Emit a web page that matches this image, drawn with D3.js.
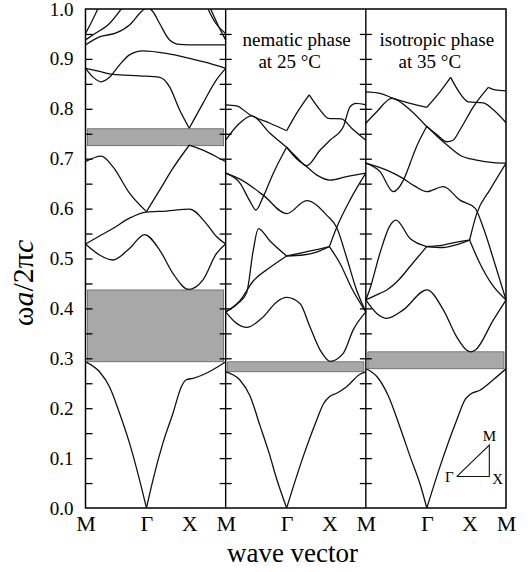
<!DOCTYPE html>
<html>
<head>
<meta charset="utf-8">
<script src="https://cdn.jsdelivr.net/npm/d3@7"></script>
<style>
body{margin:0;background:#fff}
svg{display:block}
text{font-family:"Liberation Serif","Times New Roman",serif}
</style>
</head>
<body>
<svg width="531" height="572"></svg>
<script>
// symmetry points along M-Γ-X-M, as a fraction of each panel
let kLabels = ["M", "Γ", "X"];
let kTicks = [0, 0.435, 0.74];
let yTicks = [0, 0.1, 0.2, 0.3, 0.4, 0.5, 0.6, 0.7, 0.8, 0.9, 1.0];
let panelTitle = ["", "nematic phase", "isotropic phase"];
let panelTemp = ["", "at 25 °C", "at 35 °C"];

// band gaps [low, high] per panel
let gaps = [
  [[0.293, 0.437], [0.726, 0.760]],
  [[0.273, 0.293]],
  [[0.279, 0.313]]
];

// bands: [k, ωa/2πc], third value 1 = sharp corner
let bands1 = [
  [[0,.293],[.1,.273],[.171,.243],[.243,.19],[.314,.13],[.386,.056],[.435,0,1],[.481,.056],[.552,.13],[.624,.19],[.684,.243],[.719,.257],[.766,.26],[.838,.267],[.909,.277],[1,.293]],
  [[0,.529],[.1,.507],[.195,.497],[.314,.52],[.421,.548],[.529,.517],[.624,.47],[.735,.438],[.838,.457],[.934,.51],[1,.529]],
  [[0,.529],[.1,.545],[.195,.56],[.314,.581],[.435,.593],[.576,.595],[.743,.599],[.862,.57],[.934,.544],[1,.529]],
  [[0,.694],[.112,.705],[.195,.684],[.314,.631],[.435,.594,1],[.529,.637],[.624,.681],[.74,.727,1],[.838,.717],[.934,.704],[1,.694]],
  [[0,.881],[.052,.864],[.112,.854],[.171,.863],[.243,.888],[.314,.908],[.409,.916],[.576,.911],[.743,.901],[.886,.891],[1,.881]],
  [[0,.881],[.1,.875],[.195,.869],[.386,.866],[.529,.863],[.6,.844],[.671,.798],[.74,.761,1],[.838,.811],[.934,.858],[1,.881]],
  [[0,.928],[.1,.944],[.219,.952],[.314,.968],[.4,.995],[.44,1.003],[.48,.995],[.529,.971],[.6,.938],[.671,.929],[.8,.928],[1,.928]],
  [[0,.938],[.052,.948],[.171,.971],[.255,1.0]],
  [[0,.951],[.045,.975],[.088,1.0]],
  [[.874,1.0],[.921,.975],[1,.951]],
  [[.893,1.0],[.945,.968],[1,.938]]
];

let bands2 = [
  [[0,.273],[.1,.257],[.173,.225],[.245,.165],[.31,.11],[.364,.058],[.435,0,1],[.553,.103],[.649,.176],[.7,.21],[.74,.223],[.792,.23],[.863,.243],[.958,.268],[1,.273]],
  [[0,.393],[.078,.37],[.15,.362],[.268,.383],[.364,.413],[.435,.422],[.53,.41],[.601,.363],[.673,.317],[.744,.294],[.839,.31],[.91,.357],[1,.393]],
  [[0,.393],[.088,.41],[.15,.432],[.197,.517],[.233,.56],[.316,.535],[.435,.505,1],[.55,.512],[.65,.518],[.74,.524,1],[.792,.562],[.887,.617],[1,.671]],
  [[0,.393],[.1,.415],[.197,.455],[.316,.482],[.435,.505,1],[.55,.507],[.65,.513],[.74,.524,1],[.816,.49],[.9,.44],[1,.393]],
  [[0,.671],[.102,.659],[.268,.627],[.435,.59],[.578,.616],[.72,.587],[.792,.562],[.865,.5],[.93,.44],[1,.393]],
  [[0,.671],[.102,.651],[.173,.615],[.216,.597],[.268,.624],[.34,.671],[.435,.723,1],[.506,.70],[.578,.684],[.658,.666],[.744,.657],[.863,.664],[1,.671]],
  [[0,.737],[.088,.768],[.185,.786],[.316,.751],[.435,.723,1],[.506,.703],[.578,.686],[.673,.717],[.744,.737],[.839,.764],[.887,.804],[.93,.811],[1,.808]],
  [[0,.808],[.078,.806],[.173,.788],[.316,.771],[.435,.756,1],[.506,.791],[.596,.828,1],[.673,.798],[.732,.781],[.827,.78],[.899,.761],[1,.737]]
];

let bands3 = [
  [[0,.279],[.08,.263],[.16,.225],[.24,.165],[.32,.1],[.39,.045],[.435,0,1],[.529,.083],[.648,.176],[.71,.218],[.745,.228],[.814,.236],[.909,.257],[1,.279]],
  [[0,.417],[.078,.39],[.149,.38],[.267,.397],[.435,.437],[.553,.397],[.648,.343],[.72,.316],[.75,.313],[.779,.316],[.91,.377],[1,.417]],
  [[0,.417],[.03,.44],[.1,.51],[.17,.565],[.215,.577],[.316,.54],[.435,.524,1],[.55,.527],[.65,.533],[.74,.537,1],[.791,.59],[.886,.638],[1,.691]],
  [[0,.417],[.1,.43],[.149,.437],[.244,.46],[.315,.484],[.435,.524,1],[.55,.522],[.65,.528],[.74,.537,1],[.814,.49],[.9,.448],[1,.417]],
  [[0,.691],[.149,.677],[.256,.662],[.35,.645],[.435,.634],[.553,.644],[.672,.617],[.779,.601],[.84,.56],[.92,.49],[1,.417]],
  [[0,.691],[.101,.674],[.196,.634],[.268,.657],[.315,.69],[.351,.717],[.435,.765,1],[.508,.745],[.577,.728],[.672,.707],[.791,.697],[.909,.692],[1,.691]],
  [[0,.771],[.078,.794],[.185,.821],[.22,.818],[.315,.798],[.435,.764,1],[.508,.748],[.577,.734],[.622,.737],[.672,.758],[.767,.804],[.874,.843,1],[.922,.838],[1,.836]],
  [[0,.834],[.101,.831],[.196,.821],[.315,.811],[.435,.803,1],[.529,.834],[.605,.863,1],[.672,.831],[.731,.814],[.838,.812],[.91,.798],[1,.772]]
];

// Brillouin zone inset (panel 3)
let bzLabels = ["Γ", "X", "M"];
let bzK = [0.648, 0.881, 0.881];
let bzW = [0.063, 0.063, 0.126];

let svg = d3.select("svg");
let x = d3.scaleLinear().domain([0, 3]).range([85.5, 506]);
let y = d3.scaleLinear().domain([0, 1]).range([508, 9]);

svg.append("defs").append("clipPath").attr("id", "plot")
  .append("rect")
  .attr("x", x(0)).attr("y", y(1))
  .attr("width", x(3) - x(0)).attr("height", y(0) - y(1));

// gaps
gaps.forEach(function(list, p){
  list.forEach(function(g){
    svg.append("rect")
      .attr("x", x(p) + 2).attr("width", x(p + 1) - x(p) - 4)
      .attr("y", y(g[1])).attr("height", y(g[0]) - y(g[1]))
      .attr("fill", "#a8a8a8").attr("stroke", "#555").attr("stroke-width", 0.7);
  });
});

// split a band at its sharp corners
function pieces(band){
  let out = [], cur = [];
  band.forEach(function(pt){
    cur.push(pt);
    if (pt[2]) { out.push(cur); cur = [pt]; }
  });
  if (cur.length > 1) out.push(cur);
  return out;
}

let plot = svg.append("g").attr("clip-path", "url(#plot)");
[bands1, bands2, bands3].forEach(function(bands, p){
  let line = d3.line()
    .x(function(d){ return x(p + d[0]); })
    .y(function(d){ return y(d[1]); })
    .curve(d3.curveMonotoneX);
  bands.forEach(function(b){
    pieces(b).forEach(function(seg){
      plot.append("path").attr("d", line(seg))
        .attr("fill", "none").attr("stroke", "#111").attr("stroke-width", 1.3);
    });
  });
});

// frame and panel separators
svg.append("rect")
  .attr("x", x(0)).attr("y", y(1))
  .attr("width", x(3) - x(0)).attr("height", y(0) - y(1))
  .attr("fill", "none").attr("stroke", "#000").attr("stroke-width", 1.5);
[1, 2].forEach(function(p){
  svg.append("line").attr("x1", x(p)).attr("x2", x(p)).attr("y1", y(1)).attr("y2", y(0))
    .attr("stroke", "#000").attr("stroke-width", 1.4);
});

// ticks
let minor = d3.range(1, 20).map(function(i){ return i / 20; });
svg.append("g").attr("transform", "translate(" + x(0) + ",0)")
  .call(d3.axisRight(y).tickValues(minor).tickSize(7).tickFormat(""))
  .call(function(g){ g.select(".domain").remove(); g.selectAll("line").attr("stroke-width", 1.3); });
[1, 2].forEach(function(p){
  svg.append("g").attr("transform", "translate(" + (x(p) - 6) + ",0)")
    .call(d3.axisRight(y).tickValues(minor).tickSize(12).tickFormat(""))
    .call(function(g){ g.select(".domain").remove(); g.selectAll("line").attr("stroke-width", 1.3); });
});

// y labels
svg.append("g").attr("transform", "translate(" + x(0) + ",0)")
  .call(d3.axisLeft(y).tickValues(yTicks).tickFormat(d3.format(".1f")).tickSize(0).tickPadding(12))
  .attr("font-size", 19).attr("font-family", "Liberation Serif, serif")
  .call(function(g){ g.select(".domain").remove(); });

// x labels
let kPos = [], kText = [];
for (let p = 0; p < 3; p++) {
  kTicks.forEach(function(k, j){ kPos.push(p + k); kText.push(kLabels[j]); });
}
kPos.push(3); kText.push("M");
svg.append("g").attr("transform", "translate(0," + y(0) + ")")
  .call(d3.axisBottom(x).tickValues(kPos).tickFormat(function(d, i){ return kText[i]; }).tickSize(0).tickPadding(7))
  .attr("font-size", 22).attr("font-family", "Liberation Serif, serif")
  .call(function(g){ g.select(".domain").remove(); });

svg.append("text").attr("x", 292.5).attr("y", 562)
  .attr("text-anchor", "middle").attr("font-size", 27).text("wave vector");

let yt = svg.append("text").attr("transform", "translate(33,283) rotate(-90)")
  .attr("text-anchor", "middle").attr("font-size", 30);
yt.append("tspan").text("ω");
yt.append("tspan").attr("font-style", "italic").text("a");
yt.append("tspan").text("/2π");
yt.append("tspan").attr("font-style", "italic").text("c");

// panel titles
[1, 2].forEach(function(p){
  svg.append("text").attr("x", x(p) + 71).attr("y", 46)
    .attr("text-anchor", "middle").attr("font-size", 19).text(panelTitle[p]);
  svg.append("text").attr("x", x(p) + 64).attr("y", 68)
    .attr("text-anchor", "middle").attr("font-size", 19).text(panelTemp[p]);
});

// Brillouin zone inset
let bz = bzK.map(function(k, i){ return [x(2 + k), y(bzW[i])]; });
svg.append("path").attr("d", d3.line()(bz.concat([bz[0]])))
  .attr("fill", "none").attr("stroke", "#111").attr("stroke-width", 1.1);
svg.append("text").attr("x", bz[0][0] - 3).attr("y", bz[0][1] + 5)
  .attr("text-anchor", "end").attr("font-size", 15).text(bzLabels[0]);
svg.append("text").attr("x", bz[1][0] + 3).attr("y", bz[1][1] + 7)
  .attr("font-size", 15).text(bzLabels[1]);
svg.append("text").attr("x", bz[2][0]).attr("y", bz[2][1] - 4)
  .attr("text-anchor", "middle").attr("font-size", 15).text(bzLabels[2]);
</script>
</body>
</html>
